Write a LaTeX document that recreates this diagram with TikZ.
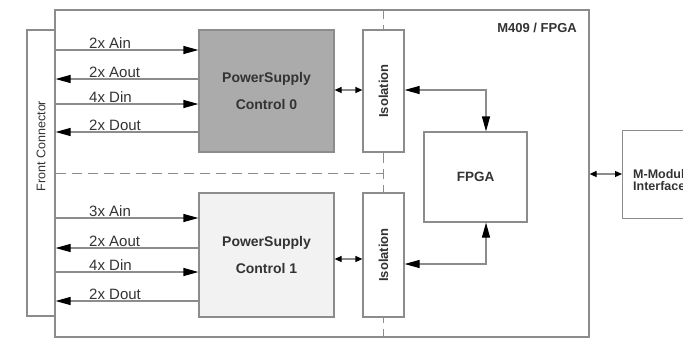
\documentclass[tikz,border=0pt]{standalone}
\usepackage{fontspec}
\setmainfont{Liberation Sans}
\usetikzlibrary{arrows.meta}

\begin{document}
\begin{tikzpicture}[x=1bp,y=-1bp,font=\fontsize{15bp}{18bp}\selectfont,
    box/.style={draw=lineGray,line width=1.2bp,inner sep=0pt},
    title/.style={font=\fontsize{13bp}{16bp}\selectfont\bfseries,text=textGray,inner sep=0pt},
    sig/.style={draw=lineGray,line width=1.2bp},
    sigin/.style={sig,-{Triangle[length=15bp,width=8bp,color=black]}},
    sigout/.style={sig,{Triangle[length=15bp,width=8bp,color=black]}-},
    link/.style={sig,{Triangle[length=7bp,width=6bp,color=black]}-{Triangle[length=7bp,width=6bp,color=black]}},
    buslink/.style={sig,{Triangle[length=15bp,width=8bp,color=black]}-{Triangle[length=15bp,width=8bp,color=black]}},
    divider/.style={draw=lineGray,line width=1bp,dash pattern=on 10bp off 6bp}]
            \colorlet{lineGray}{black!45}
            \colorlet{textGray}{black!80}
            \colorlet{pscDark}{black!33}
            \colorlet{pscLight}{black!5}
            \useasboundingbox (0,0) rectangle (683,340);
            \node[box,minimum width=28bp,minimum height=286bp] (front) at (41,173) {};
            \node[rotate=90,text=textGray,font=\fontsize{12.5bp}{15bp}\selectfont] (frontlabel) at ([yshift=27bp]front.center) {Front Connector};
            \node[box,minimum width=534bp,minimum height=327bp] (card) at (322,173.5) {};
            \node[title,anchor=base east] (cardlabel) at (577,32) {M409 / FPGA};
            \coordinate (split) at (383,173);
            \draw[divider] (split |- card.north) -- (split |- card.south);
            \draw[divider] (front.east) -- (split);
            \node[box,fill=pscDark,minimum width=135bp,minimum height=122bp,align=center,font=\fontsize{14bp}{17bp}\selectfont\bfseries,text=textGray] (psc0) at (266.5,91) {PowerSupply\\[10bp]Control 0};
            \node[box,fill=pscLight,minimum width=135bp,minimum height=124bp,align=center,font=\fontsize{14bp}{17bp}\selectfont\bfseries,text=textGray] (psc1) at (266.5,255) {PowerSupply\\[10bp]Control 1};
            \node[box,fill=white,minimum width=41bp,minimum height=122bp] (iso0) at (383.5,91) {};
            \node[box,fill=white,minimum width=41bp,minimum height=124bp] (iso1) at (383.5,255) {};
            \node[title,rotate=90] (iso0label) at (iso0) {Isolation};
            \node[title,rotate=90] (iso1label) at (iso1) {Isolation};
            \node[box,fill=white,minimum width=103bp,minimum height=90bp,title,font=\fontsize{13.5bp}{16bp}\selectfont\bfseries] (fpga) at (475.5,177) {FPGA};
            \node[box,anchor=north west,minimum width=100bp,minimum height=88bp] (mmod) at (622,130) {};
            \node[title,anchor=north west,align=left,font=\fontsize{12.5bp}{12bp}\selectfont\bfseries] (mmodlabel) at (633,169) {M-Module\\Interface};
            \foreach \p/\y/\t/\dir in {psc0/50/2x Ain/sigin,psc0/79/2x Aout/sigout,psc0/104/4x Din/sigin,psc0/132/2x Dout/sigout,psc1/218/3x Ain/sigin,psc1/248/2x Aout/sigout,psc1/272/4x Din/sigin,psc1/301/2x Dout/sigout}
                {   \draw[\dir] (front.east |- 0,\y) -- (\p.west |- 0,\y)
                        node[pos=0,anchor=base west,xshift=33bp,yshift=2bp,text=textGray,inner sep=0pt] (lab\y) {\t};
                }
            \draw[link] (psc0.east |- 0,90) -- (iso0.west |- 0,90);
            \draw[link] (psc1.east |- 0,259) -- (iso1.west |- 0,259);
            \draw[buslink] (iso0.east |- 0,90) -| ([xshift=10.5bp]fpga.north);
            \draw[buslink] (iso1.east |- 0,264) -| ([xshift=10.5bp]fpga.south);
            \draw[link] (card.east |- 0,174) -- (mmod.west |- 0,174);
        \end{tikzpicture}
\end{document}
